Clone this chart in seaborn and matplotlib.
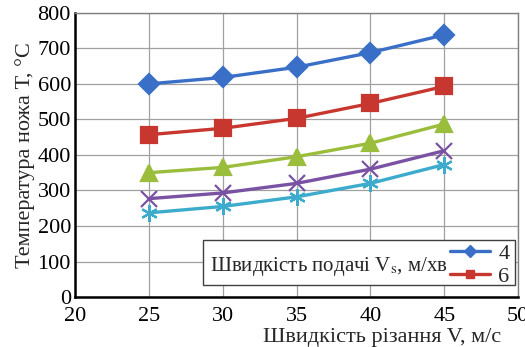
import matplotlib as mpl
mpl.use('Agg')
import matplotlib.pyplot as plt
import seaborn as sns
import pandas as pd
from matplotlib.patches import Rectangle
from matplotlib.lines import Line2D

# Cutting speed V, m/s
speed = [25, 30, 35, 40, 45]
# Feed speed Vs, m/min (series names)
feeds = ['4', '6', '8', '10', '12']
# Knife temperature T, °C per feed speed
temp_4 = [600, 618, 647, 688, 738]
temp_6 = [457, 475, 503, 545, 593]
temp_8 = [350, 365, 395, 433, 487]
temp_10 = [277, 293, 320, 360, 412]
temp_12 = [237, 255, 282, 320, 373]

x_ticks = [20, 25, 30, 35, 40, 45, 50]
y_ticks = [0, 100, 200, 300, 400, 500, 600, 700, 800]

colors = ['#3a6fc7', '#c8372f', '#9bbd3c', '#7a52a3', '#3cabcc']
markers = ['D', 's', '^', 'x', (6, 2, 0)]
sizes = [10, 11, 11, 11, 12]

rows = []
for name, vals in zip(feeds, [temp_4, temp_6, temp_8, temp_10, temp_12]):
    for v, t in zip(speed, vals):
        rows.append({'V': v, 'T': t, 'feed': name})
df = pd.DataFrame(rows)

sns.set_style('white')
plt.rcParams['font.family'] = ['Liberation Serif', 'DejaVu Serif']
plt.rcParams['mathtext.fontset'] = 'stix'

fig = plt.figure(figsize=(5.25, 3.47), dpi=100)
ax = fig.add_axes([0.143, 0.144, 0.844, 0.819])

for i, name in enumerate(feeds):
    sub = df[df['feed'] == name]
    sns.lineplot(data=sub, x='V', y='T', ax=ax, color=colors[i], linewidth=2.4,
                 marker=markers[i], markersize=sizes[i], markeredgewidth=1.6,
                 markeredgecolor=colors[i], legend=False, zorder=3 + i)

ax.set_xlim(20, 50)
ax.set_ylim(0, 800)
ax.set_xticks(x_ticks)
ax.set_yticks(y_ticks)
ax.grid(True, color='#a0a0a0', linewidth=0.9)
ax.set_axisbelow(True)

for side in ['top', 'right']:
    ax.spines[side].set_color('#808080')
    ax.spines[side].set_linewidth(1.0)
for side in ['left', 'bottom']:
    ax.spines[side].set_color('black')
    ax.spines[side].set_linewidth(1.8)

ax.tick_params(axis='both', labelsize=16, length=4, width=1, direction='out',
               colors='black')
ax.tick_params(axis='x', pad=3)
ax.tick_params(axis='y', pad=-1)

ax.set_ylabel('Температура ножа Т, °С', fontsize=16)
ax.yaxis.set_label_coords(-0.09, 0.5)
ax.set_xlabel('Швидкість різання V, м/с', fontsize=16, ha='right')
ax.xaxis.set_label_coords(0.962, -0.11)

# legend box: title on the left, entries on the right
box = Rectangle((0.289, 0.042), 0.704, 0.158, transform=ax.transAxes,
                facecolor='white', edgecolor='#404040', linewidth=1.0, zorder=10)
ax.add_patch(box)
ax.text(0.305, 0.106, 'Швидкість подачі V$_{\\mathrm{s}}$, м/хв', transform=ax.transAxes,
        fontsize=15, va='center', ha='left', zorder=11)

handles = [Line2D([], [], color=colors[i], linewidth=2.4, marker=markers[i],
                  markersize=6, markeredgecolor=colors[i]) for i in range(2)]
leg = ax.legend(handles, feeds[:2], loc='center right', bbox_to_anchor=(0.985, 0.113),
                frameon=False, fontsize=16, handlelength=1.8, handletextpad=0.35,
                labelspacing=0.1, borderaxespad=0.0, borderpad=0.1)
leg.set_zorder(12)

fig.savefig('out.png', dpi=100)
